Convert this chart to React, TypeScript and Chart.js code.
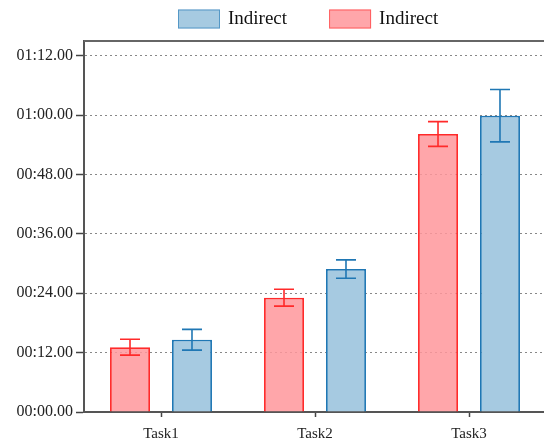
import React, { useEffect, useRef } from "react";
import { Chart, registerables } from "chart.js";

Chart.register(...registerables);

const categories = ["Task1", "Task2", "Task3"];
const seriesLabels = ["Indirect", "Indirect"];
const redMeans = [13.1, 23.1, 56.2];
const redErrors = [1.6, 1.7, 2.5];
const blueMeans = [14.6, 28.9, 59.9];
const blueErrors = [2.1, 1.85, 5.3];
const yTickValues = [0, 12, 24, 36, 48, 60, 72];
const yMax = 75;

const RED_FILL = "rgba(255,150,155,0.85)";
const RED_LINE = "#ff2a2a";
const BLUE_FILL = "rgba(166,202,225,1)";
const BLUE_LINE = "#1f77b4";
const FONT = "'Liberation Serif', 'Times New Roman', serif";

function fmt(v: number) {
  const m = Math.floor(v / 60);
  const s = v - m * 60;
  const mm = String(m).padStart(2, "0");
  const ss = String(Math.floor(s)).padStart(2, "0");
  return `${mm}:${ss}.00`;
}

const errorBarPlugin = {
  id: "errorBars",
  afterDatasetsDraw(chart: any) {
    const ctx = chart.ctx;
    const y = chart.scales.y;
    chart.data.datasets.forEach((ds: any, di: number) => {
      const meta = chart.getDatasetMeta(di);
      meta.data.forEach((bar: any, i: number) => {
        const v = ds.data[i];
        const e = ds.errors[i];
        const top = y.getPixelForValue(v + e);
        const bot = y.getPixelForValue(v - e);
        const x = bar.x;
        ctx.save();
        ctx.strokeStyle = ds.borderColor;
        ctx.lineWidth = 1.6;
        ctx.beginPath();
        ctx.moveTo(x, top);
        ctx.lineTo(x, bot);
        ctx.moveTo(x - 10, top);
        ctx.lineTo(x + 10, top);
        ctx.moveTo(x - 10, bot);
        ctx.lineTo(x + 10, bot);
        ctx.stroke();
        ctx.restore();
      });
    });
  },
};

const framePlugin = {
  id: "frame",
  afterDraw(chart: any) {
    const { ctx, chartArea } = chart;
    ctx.save();
    ctx.strokeStyle = "#666";
    ctx.lineWidth = 2;
    ctx.beginPath();
    ctx.moveTo(chartArea.left, chartArea.top);
    ctx.lineTo(chartArea.right + 2, chartArea.top);
    ctx.stroke();
    ctx.restore();
  },
};

const legendPlugin = {
  id: "customLegend",
  afterDraw(chart: any) {
    const { ctx, chartArea } = chart;
    const order = [1, 0];
    let x = chartArea.left + 94;
    const boxW = 42;
    const boxH = 19;
    const yc = 19;
    ctx.save();
    ctx.font = `19px ${FONT}`;
    ctx.textBaseline = "middle";
    order.forEach((di) => {
      const ds = chart.data.datasets[di];
      ctx.fillStyle = ds.backgroundColor;
      ctx.fillRect(x, yc - boxH / 2, boxW, boxH);
      ctx.strokeStyle = ds.borderColor;
      ctx.globalAlpha = 0.6;
      ctx.lineWidth = 1;
      ctx.strokeRect(x + 0.5, yc - boxH / 2 + 0.5, boxW - 1, boxH - 1);
      ctx.globalAlpha = 1;
      ctx.fillStyle = "#111";
      ctx.fillText(ds.label, x + boxW + 8, yc);
      const tw = ctx.measureText(ds.label).width;
      x += boxW + 8 + tw + 42;
    });
    ctx.restore();
  },
};

export default function App() {
  const ref = useRef<HTMLCanvasElement | null>(null);
  useEffect(() => {
    if (!ref.current) return;
    const chart = new Chart(ref.current, {
      type: "bar",
      data: {
        labels: categories,
        datasets: [
          {
            label: seriesLabels[1],
            data: redMeans,
            errors: redErrors,
            backgroundColor: RED_FILL,
            borderColor: RED_LINE,
            borderWidth: 1.8,
          } as any,
          {
            label: seriesLabels[0],
            data: blueMeans,
            errors: blueErrors,
            backgroundColor: BLUE_FILL,
            borderColor: BLUE_LINE,
            borderWidth: 1.8,
          } as any,
        ],
      },
      options: {
        animation: false,
        responsive: false,
        devicePixelRatio: 1,
        layout: { padding: { top: 41, left: 0, right: 0, bottom: 0 } },
        datasets: { bar: { categoryPercentage: 0.805, barPercentage: 0.645 } },
        plugins: { legend: { display: false }, tooltip: { enabled: false } },
        scales: {
          x: {
            afterFit: (s: any) => {
              s.height = 34;
            },
            border: { color: "#555", width: 2 },
            grid: {
              offset: false,
              drawOnChartArea: false,
              drawTicks: true,
              tickLength: 5,
              tickColor: "#444",
              tickWidth: 1.5,
            },
            ticks: { color: "#222", font: { family: FONT, size: 15 }, padding: 8 },
          },
          y: {
            min: 0,
            max: yMax,
            afterFit: (s: any) => {
              s.width = 84;
            },
            afterBuildTicks: (s: any) => {
              s.ticks = yTickValues.map((v) => ({ value: v }));
            },
            border: { color: "#555", width: 2, dash: [2, 3] },
            grid: {
              color: (c: any) => (c.tick && c.tick.value === 0 ? "rgba(0,0,0,0)" : "#888"),
              lineWidth: 1,
              drawTicks: true,
              tickLength: 8,
              tickColor: "#444",
              tickWidth: 1.5,
              tickBorderDash: [],
            } as any,
            ticks: {
              color: "#222",
              font: { family: FONT, size: 16 },
              padding: 3,
              callback: (v: any) => fmt(Number(v)),
            },
          },
        },
      },
      plugins: [errorBarPlugin, framePlugin, legendPlugin],
    });
    return () => chart.destroy();
  }, []);
  return (
    <div style={{ position: "absolute", left: 0, top: 0, width: 544, height: 446, overflow: "hidden", background: "#fff" }}>
      <canvas ref={ref} width={546} height={446} style={{ display: "block", width: 546, height: 446 }} />
    </div>
  );
}
